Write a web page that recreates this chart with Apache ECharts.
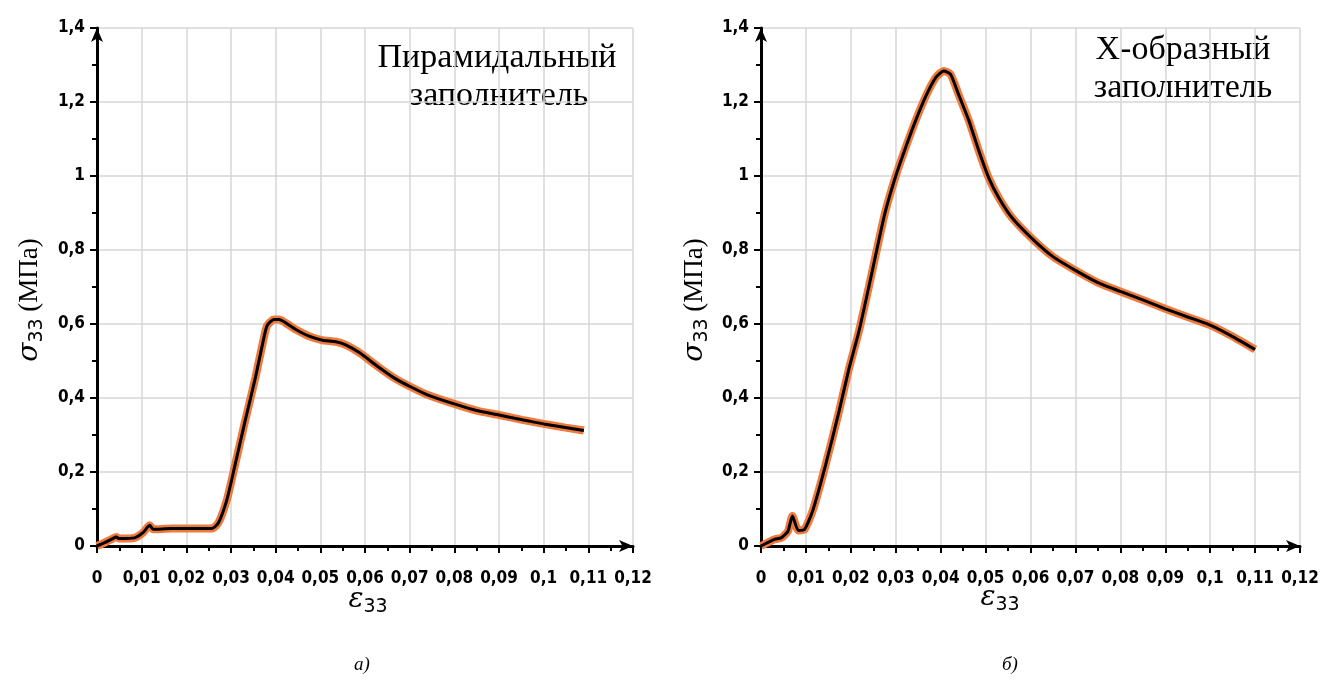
<!DOCTYPE html>
<html>
<head>
<meta charset="utf-8">
<script src="https://cdn.jsdelivr.net/npm/echarts@6/dist/echarts.min.js"></script>
<style>
  html, body { margin: 0; padding: 0; background: #fff; }
  #main { width: 1322px; height: 686px; }
</style>
</head>
<body>
<div id="main"></div>
<script>
// пирамидальный заполнитель
var pyrStrain = [0, 0.0017, 0.0035, 0.0043, 0.005, 0.0084, 0.0103, 0.0118, 0.0126, 0.0167, 0.0257, 0.0272, 0.0291, 0.031, 0.0332, 0.0355, 0.0374, 0.0381, 0.0396, 0.0408, 0.0426, 0.0445, 0.0475, 0.0505, 0.0535, 0.0558, 0.0588, 0.063, 0.0667, 0.0704, 0.0741, 0.08, 0.085, 0.09, 0.0952, 0.1, 0.1049, 0.109];
var pyrStress = [0, 0.009, 0.02, 0.024, 0.02, 0.022, 0.036, 0.056, 0.045, 0.047, 0.047, 0.063, 0.126, 0.224, 0.34, 0.457, 0.565, 0.596, 0.612, 0.612, 0.6, 0.585, 0.567, 0.556, 0.552, 0.543, 0.522, 0.484, 0.453, 0.429, 0.408, 0.384, 0.366, 0.354, 0.341, 0.33, 0.32, 0.312];
// Х-образный заполнитель
var xStrain = [0, 0.003, 0.0045, 0.006, 0.007, 0.0083, 0.0097, 0.0115, 0.0144, 0.0174, 0.0196, 0.0218, 0.024, 0.0262, 0.0277, 0.03, 0.0322, 0.0344, 0.0367, 0.0389, 0.0407, 0.0422, 0.044, 0.0463, 0.0485, 0.0507, 0.053, 0.0559, 0.06, 0.065, 0.07, 0.075, 0.08, 0.085, 0.09, 0.095, 0.1, 0.1047, 0.11];
var xStress = [0, 0.018, 0.022, 0.04, 0.081, 0.042, 0.045, 0.095, 0.22, 0.365, 0.48, 0.58, 0.70, 0.824, 0.905, 1.0, 1.077, 1.149, 1.216, 1.266, 1.284, 1.275, 1.22, 1.149, 1.068, 0.995, 0.94, 0.887, 0.835, 0.782, 0.745, 0.712, 0.688, 0.665, 0.641, 0.619, 0.597, 0.568, 0.531];
var xTicks = [0, 0.01, 0.02, 0.03, 0.04, 0.05, 0.06, 0.07, 0.08, 0.09, 0.1, 0.11, 0.12];
var yTicks = [0, 0.2, 0.4, 0.6, 0.8, 1, 1.2, 1.4];

function pairs(xs, ys) {
    var out = [];
    for (var i = 0; i < xs.length; i++) out.push([xs[i], ys[i]]);
    return out;
}
function comma(v) {
    return String(+v.toFixed(2)).replace('.', ',');
}

var tickFont = {
    fontFamily: '"DejaVu Sans Condensed", "Liberation Sans Narrow", "Liberation Sans", sans-serif',
    fontWeight: 'bold',
    fontSize: 17,
    color: '#000'
};
var symRich = {
    g: { fontFamily: 'DejaVu Serif', fontStyle: 'italic', fontSize: 28, color: '#000' },
    s: { fontFamily: 'DejaVu Sans', fontSize: 19, color: '#000', padding: [14, 0, 0, 0] },
    u: { fontFamily: 'Liberation Serif', fontSize: 27, color: '#000' }
};

function makeX(idx) {
    return {
        gridIndex: idx, type: 'value', min: xTicks[0], max: xTicks[xTicks.length - 1], interval: 0.01,
        axisLine: { show: true, onZero: false, symbol: ['none', 'arrow'], symbolSize: [9, 14], lineStyle: { color: '#000', width: 3 } },
        axisTick: { show: true, length: 7, lineStyle: { color: '#000', width: 2 } },
        minorTick: { show: true, splitNumber: 2, length: 5, lineStyle: { color: '#000', width: 2 } },
        splitLine: { show: true, lineStyle: { color: '#d6d6d6', width: 1.5 } },
        axisLabel: Object.assign({ margin: 24, formatter: comma }, tickFont)
    };
}
function makeY(idx) {
    return {
        gridIndex: idx, type: 'value', min: yTicks[0], max: yTicks[yTicks.length - 1], interval: 0.2,
        axisLine: { show: true, onZero: false, symbol: ['none', 'arrow'], symbolSize: [9, 14], lineStyle: { color: '#000', width: 3 } },
        axisTick: { show: true, length: 7, lineStyle: { color: '#000', width: 2 } },
        minorTick: { show: true, splitNumber: 2, length: 5, lineStyle: { color: '#000', width: 2 } },
        splitLine: { show: true, lineStyle: { color: '#d6d6d6', width: 1.5 } },
        axisLabel: Object.assign({ margin: 12, formatter: comma }, tickFont)
    };
}
function curve(idx, data, under) {
    return {
        type: 'line', xAxisIndex: idx, yAxisIndex: idx, data: data,
        smooth: 0.2, showSymbol: false, silent: true,
        lineStyle: under ? { color: '#ee7a3e', width: 8 } : { color: '#000', width: 3 }
    };
}
function label(x, y, txt) {
    return { type: 'text', x: x, y: y, style: { text: txt, font: '34px "Liberation Serif"', fill: '#000', align: 'center', verticalAlign: 'middle' } };
}
function sigma(x, y) {
    return { type: 'text', x: x, y: y, rotation: Math.PI / 2,
        style: { text: '{g|σ}{s|33}  {u|(МПа)}', rich: symRich, align: 'center', verticalAlign: 'middle' } };
}
function eps(x, y) {
    return { type: 'text', x: x, y: y,
        style: { text: '{g|ε}{s|33}', rich: symRich, align: 'center', verticalAlign: 'middle' } };
}

var myChart = echarts.init(document.getElementById('main'));
var option = {
    backgroundColor: '#fff',
    animation: false,
    grid: [
        { left: 97, top: 28, width: 536, height: 518 },
        { left: 761, top: 28, width: 539, height: 518 }
    ],
    xAxis: [makeX(0), makeX(1)],
    yAxis: [makeY(0), makeY(1)],
    series: [
        curve(0, pairs(pyrStrain, pyrStress), true),
        curve(0, pairs(pyrStrain, pyrStress), false),
        curve(1, pairs(xStrain, xStress), true),
        curve(1, pairs(xStrain, xStress), false)
    ],
    graphic: [
        label(497, 58, 'Пирамидальный'),
        label(499, 96, 'заполнитель'),
        label(1183, 50, 'Х-образный'),
        label(1183, 88, 'заполнитель'),
        sigma(30, 300),
        sigma(695, 300),
        eps(368, 600),
        eps(1000, 598),
        { type: 'text', x: 362, y: 665, style: { text: 'а)', font: 'italic 19px "Liberation Serif"', fill: '#000', align: 'center', verticalAlign: 'middle' } },
        { type: 'text', x: 1010, y: 665, style: { text: 'б)', font: 'italic 19px "Liberation Serif"', fill: '#000', align: 'center', verticalAlign: 'middle' } }
    ]
};
myChart.setOption(option);
</script>
</body>
</html>
